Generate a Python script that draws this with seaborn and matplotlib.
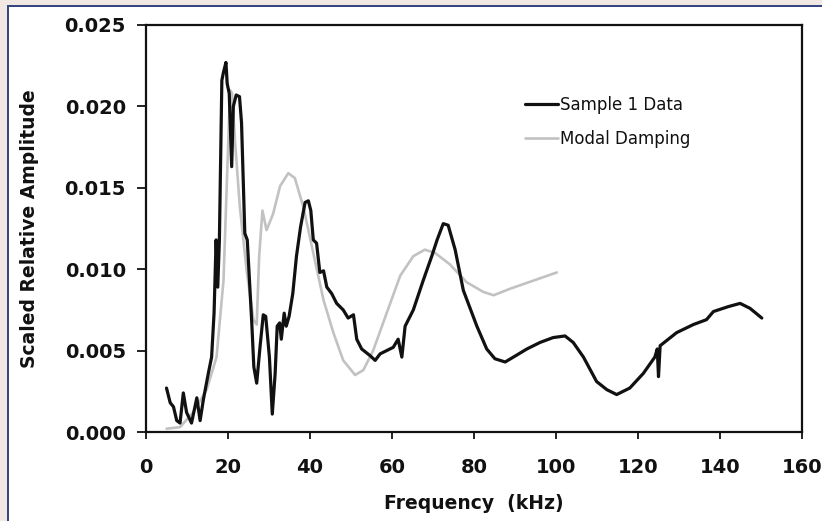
import matplotlib
matplotlib.use("Agg")
import matplotlib.pyplot as plt
from matplotlib.patches import Rectangle
import seaborn as sns
import pandas as pd

# ---- data ----
sample_freq = [5.0, 5.9, 6.7, 7.5, 8.3, 9.1, 9.9, 11.1, 12.4, 13.2, 14.0, 15.2, 16.0, 16.6,
               17.1, 17.5, 17.9, 18.5, 18.9, 19.5, 19.8, 20.3, 20.9, 21.3, 22.0, 22.8, 23.3,
               24.1, 24.7, 25.8, 26.3, 27.0, 27.8, 28.6, 29.2, 30.1, 30.8, 31.5, 32.0, 32.6,
               33.0, 33.7, 34.2, 34.9, 35.8, 36.7, 37.7, 38.8, 39.6, 40.2, 40.8, 41.6, 42.4,
               43.3, 44.1, 45.3, 46.5, 48.1, 49.3, 50.6, 51.4, 52.6, 54.6, 55.9, 57.1, 58.7,
               60.3, 61.5, 62.4, 63.2, 65.2, 67.6, 69.7, 71.0, 72.5, 73.7, 75.4, 77.4, 80.7,
               83.1, 85.1, 87.6, 89.6, 92.9, 96.1, 99.3, 102.2, 104.2, 106.7, 109.9, 112.4,
               114.8, 118.0, 121.3, 124.1, 124.7, 125.0, 125.4, 129.4, 133.5, 136.7, 138.4,
               142.0, 144.9, 147.3, 150.2]
sample_amp = [0.0027, 0.0018, 0.00155, 0.0007, 0.00055, 0.0024, 0.0012, 0.00055, 0.0021, 0.0007,
              0.0020, 0.0036, 0.0046, 0.0073, 0.0118, 0.0089, 0.0118, 0.0216, 0.0221, 0.0227,
              0.0214, 0.0208, 0.0163, 0.0200, 0.0207, 0.0206, 0.0190, 0.0122, 0.0118, 0.0067,
              0.0040, 0.0030, 0.0052, 0.0072, 0.0071, 0.0046, 0.0011, 0.0036, 0.0065, 0.0067,
              0.0057, 0.0073, 0.0065, 0.0071, 0.0085, 0.0108, 0.0126, 0.0141, 0.0142, 0.0136,
              0.0118, 0.0116, 0.0098, 0.0099, 0.0089, 0.0085, 0.0079, 0.0075, 0.0070, 0.0072,
              0.0057, 0.0051, 0.0047, 0.0044, 0.0048, 0.0050, 0.0052, 0.0057, 0.0046, 0.0065,
              0.0075, 0.0093, 0.0108, 0.0118, 0.0128, 0.0127, 0.0112, 0.0087, 0.0065, 0.0051,
              0.0045, 0.0043, 0.0046, 0.0051, 0.0055, 0.0058, 0.0059, 0.0055, 0.0046, 0.0031,
              0.0026, 0.0023, 0.0027, 0.0036, 0.0046, 0.0051, 0.0034, 0.0053, 0.0061, 0.0066,
              0.0069, 0.0074, 0.0077, 0.0079, 0.0076, 0.0070]

modal_freq = [5.0, 8.3, 11.5, 14.8, 17.2, 18.9, 19.8, 20.5, 21.0, 21.7, 22.9, 24.6, 26.2, 27.0,
              27.6, 28.4, 29.4, 31.0, 32.7, 34.7, 36.3, 38.4, 40.8, 43.3, 45.7, 48.1, 51.0,
              53.0, 55.4, 58.7, 62.0, 65.2, 68.0, 70.5, 74.1, 78.2, 82.3, 84.8, 88.8, 94.5,
              100.2]
modal_amp = [0.0002, 0.0003, 0.0012, 0.0026, 0.0046, 0.0093, 0.0159, 0.0210, 0.0208, 0.0179,
             0.0138, 0.0098, 0.0069, 0.0066, 0.0108, 0.0136, 0.0124, 0.0134, 0.0151, 0.0159,
             0.0156, 0.0138, 0.0110, 0.0081, 0.0061, 0.0044, 0.0035, 0.0038, 0.0050, 0.0073,
             0.0096, 0.0108, 0.0112, 0.0110, 0.0103, 0.0092, 0.0086, 0.0084, 0.0088, 0.0093,
             0.0098]

series_names = ["Sample 1 Data", "Modal Damping"]
x_ticks = [0, 20, 40, 60, 80, 100, 120, 140, 160]
y_ticks = [0.000, 0.005, 0.010, 0.015, 0.020, 0.025]
x_label = "Frequency  (kHz)"
y_label = "Scaled Relative Amplitude"

df = pd.concat([
    pd.DataFrame({"f": sample_freq, "a": sample_amp, "s": series_names[0]}),
    pd.DataFrame({"f": modal_freq, "a": modal_amp, "s": series_names[1]}),
], ignore_index=True)

sns.set_theme(style="white")
plt.rcParams["font.family"] = ["DejaVu Sans"]
plt.rcParams["text.color"] = "#111111"
plt.rcParams["axes.labelcolor"] = "#111111"
plt.rcParams["xtick.color"] = "#111111"
plt.rcParams["ytick.color"] = "#111111"

W, H = 822, 521
fig = plt.figure(figsize=(W / 100, H / 100), dpi=100)
fig.patch.set_facecolor("white")

# page frame: beige margin + blue rule at top and left
beige = "#f2e8e3"
blue = "#34487f"
fig.patches.append(Rectangle((0, 1 - 4.5 / H), 1, 4.5 / H, transform=fig.transFigure,
                             facecolor=beige, edgecolor="none", zorder=0))
fig.patches.append(Rectangle((0, 0), 7 / W, 1, transform=fig.transFigure,
                             facecolor=beige, edgecolor="none", zorder=0))
fig.patches.append(Rectangle((7 / W, 1 - 6.5 / H), 1 - 7 / W, 2 / H, transform=fig.transFigure,
                             facecolor=blue, edgecolor="none", zorder=1))
fig.patches.append(Rectangle((7 / W, 0), 2 / W, 1 - 4.5 / H, transform=fig.transFigure,
                             facecolor=blue, edgecolor="none", zorder=1))

ax = fig.add_axes([146 / W, 1 - 432 / H, (802 - 146) / W, (432 - 25) / H])
ax.set_facecolor("white")

colors = {series_names[0]: "#111111", series_names[1]: "#c2c2c2"}
widths = [2.3, 1.9]
sns.lineplot(data=df, x="f", y="a", hue="s", hue_order=series_names,
             palette=colors, estimator=None, sort=False, ax=ax, legend=True)
for line, lw in zip(ax.lines, widths):
    line.set_linewidth(lw)
    line.set_solid_joinstyle("round")
ax.lines[0].set_zorder(3)
ax.lines[1].set_zorder(2)

ax.set_xlim(0, 160)
ax.set_ylim(0, 0.025)
ax.set_xticks(x_ticks)
ax.set_yticks(y_ticks)
ax.set_xticklabels([str(t) for t in x_ticks], fontsize=14, fontweight="bold", color="#111111")
ax.set_yticklabels([f"{t:.3f}" for t in y_ticks], fontsize=14, fontweight="bold", color="#111111")
ax.tick_params(axis="x", direction="out", length=5, width=1.3, color="#111111",
               bottom=True, pad=14)
ax.tick_params(axis="y", direction="out", length=6.5, width=1.3, color="#111111",
               left=True, pad=8)
for sp in ax.spines.values():
    sp.set_visible(True)
    sp.set_color("#111111")
    sp.set_linewidth(1.6)

ax.set_xlabel(x_label, fontsize=13.5, fontweight="bold", labelpad=12, color="#111111")
ax.set_ylabel(y_label, fontsize=13.5, fontweight="bold", labelpad=18, color="#111111")

leg = ax.legend(loc="upper left", bbox_to_anchor=(0.567, 0.843), frameon=False,
                fontsize=12, handlelength=2.0, handletextpad=0.12, labelspacing=1.0,
                borderaxespad=0)
for t in leg.get_texts():
    t.set_color("#111111")
for h, lw in zip(leg.get_lines(), widths):
    h.set_linewidth(lw)

fig.savefig("out.png", dpi=100, facecolor=fig.get_facecolor())
